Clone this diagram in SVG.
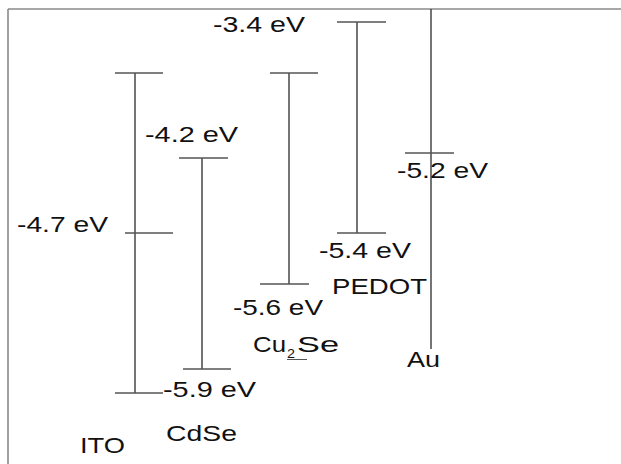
<svg xmlns="http://www.w3.org/2000/svg" width="621" height="464" viewBox="0 0 621 464">
<style>
.frame{stroke:#8a8a8a;stroke-width:1.6;fill:none}
.bar{stroke:#3a3a3a;stroke-width:1.4;fill:none}
.tick{stroke:#555;stroke-width:1.4;fill:none}
text{font-family:"Liberation Sans",Arial,sans-serif;font-size:22.5px;fill:#111}
</style>
<rect width="621" height="464" fill="#fff"/>
<g id="frame">
<line class="frame" x1="8" y1="9" x2="621" y2="9"/>
<line class="frame" x1="8" y1="9" x2="8" y2="464"/>
</g>
<g id="connectors">
<line class="bar" x1="135" y1="73" x2="135" y2="393"/>
<line class="bar" x1="202" y1="158" x2="202" y2="369"/>
<line class="bar" x1="289" y1="73" x2="289" y2="284"/>
<line class="bar" x1="357" y1="22" x2="357" y2="233"/>
<line class="bar" x1="431" y1="9" x2="431" y2="349"/>
</g>
<g id="ITO">
<line class="tick" x1="115" y1="73" x2="163" y2="73"/>
<line class="tick" x1="125" y1="233" x2="173" y2="233"/>
<line class="tick" x1="115" y1="393" x2="163" y2="393"/>
<text x="17" y="232" textLength="91" lengthAdjust="spacingAndGlyphs">-4.7 eV</text>
<text x="80" y="453" textLength="45" lengthAdjust="spacingAndGlyphs">ITO</text>
</g>
<g id="CdSe">
<line class="tick" x1="179" y1="158" x2="228" y2="158"/>
<line class="tick" x1="183" y1="369" x2="231" y2="369"/>
<text x="145" y="142" textLength="93" lengthAdjust="spacingAndGlyphs">-4.2 eV</text>
<text x="163" y="397" textLength="93" lengthAdjust="spacingAndGlyphs">-5.9 eV</text>
<text x="166" y="441" textLength="71" lengthAdjust="spacingAndGlyphs">CdSe</text>
</g>
<g id="Cu2Se">
<line class="tick" x1="270" y1="73" x2="318" y2="73"/>
<line class="tick" x1="260" y1="284" x2="309" y2="284"/>
<text x="233" y="315" textLength="90" lengthAdjust="spacingAndGlyphs">-5.6 eV</text>
<text x="253" y="352" textLength="33" lengthAdjust="spacingAndGlyphs">Cu</text>
<text x="287" y="358" style="font-size:13px" textLength="8" lengthAdjust="spacingAndGlyphs">2</text>
<line x1="287" y1="359.5" x2="307" y2="359.5" stroke="#555" stroke-width="1"/>
<text x="297" y="352" textLength="42" lengthAdjust="spacingAndGlyphs">Se</text>
</g>
<g id="PEDOT">
<line class="tick" x1="337" y1="22" x2="386" y2="22"/>
<line class="tick" x1="337" y1="233" x2="386" y2="233"/>
<text x="213" y="32" textLength="92" lengthAdjust="spacingAndGlyphs">-3.4 eV</text>
<text x="319" y="258" textLength="92" lengthAdjust="spacingAndGlyphs">-5.4 eV</text>
<text x="332" y="294" textLength="95" lengthAdjust="spacingAndGlyphs">PEDOT</text>
</g>
<g id="Au">
<line class="tick" x1="405" y1="153" x2="454" y2="153"/>
<text x="397" y="178" textLength="91" lengthAdjust="spacingAndGlyphs">-5.2 eV</text>
<text x="407" y="367" textLength="33" lengthAdjust="spacingAndGlyphs">Au</text>
</g>
</svg>
